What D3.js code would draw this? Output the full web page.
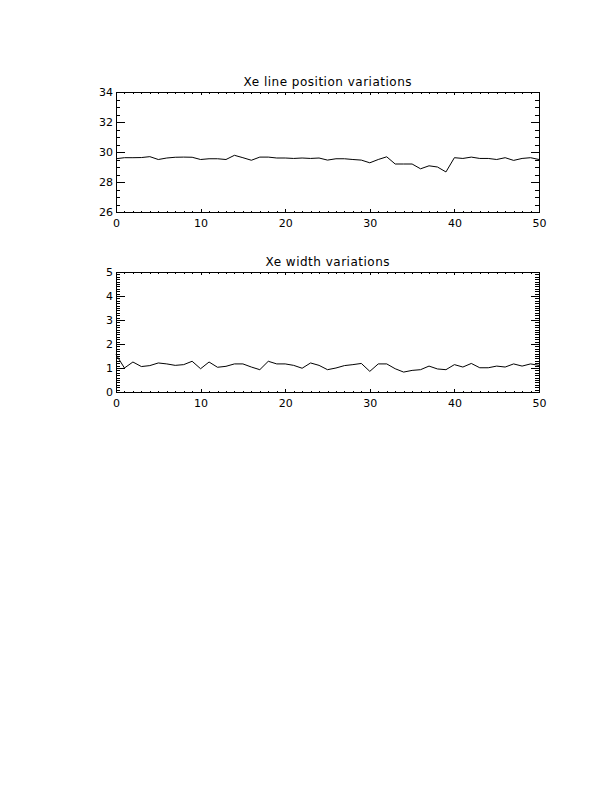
<!DOCTYPE html>
<html>
<head>
<meta charset="utf-8">
<script src="https://cdn.jsdelivr.net/npm/d3@7"></script>
<style>
  body { margin: 0; background: #fff; }
  text { font-family: "DejaVu Sans", sans-serif; fill: #000; }
</style>
</head>
<body>
<div id="chart"></div>
<script>
// frame index, 0..50
const frames = d3.range(0, 51);

// Xe line position per frame
const positionValues = [
  29.55, 29.62, 29.62, 29.63, 29.69, 29.50, 29.60, 29.65, 29.66, 29.65,
  29.50, 29.55, 29.55, 29.50, 29.78, 29.62, 29.45, 29.66, 29.66, 29.60,
  29.60, 29.57, 29.60, 29.57, 29.60, 29.46, 29.55, 29.55, 29.50, 29.46,
  29.28, 29.50, 29.68, 29.20, 29.20, 29.20, 28.88, 29.08, 29.00, 28.67,
  29.62, 29.57, 29.66, 29.57, 29.57, 29.50, 29.62, 29.44, 29.57, 29.62,
  29.50
];

// Xe width per frame
const widthValues = [
  1.56, 1.00, 1.25, 1.06, 1.10, 1.21, 1.17, 1.11, 1.14, 1.28,
  0.97, 1.25, 1.03, 1.07, 1.17, 1.17, 1.04, 0.93, 1.28, 1.17,
  1.17, 1.11, 0.99, 1.21, 1.11, 0.93, 1.00, 1.10, 1.14, 1.19,
  0.86, 1.17, 1.17, 0.97, 0.83, 0.90, 0.93, 1.08, 0.96, 0.93,
  1.14, 1.04, 1.19, 1.01, 1.01, 1.08, 1.04, 1.17, 1.08, 1.17,
  1.11
];

const xTicks = [0, 10, 20, 30, 40, 50];
const posTicks = [26, 28, 30, 32, 34];
const widthTicks = [0, 1, 2, 3, 4, 5];

const svg = d3.select("#chart")
  .append("svg")
  .attr("width", 612)
  .attr("height", 792);

svg.append("rect").attr("width", 612).attr("height", 792).attr("fill", "#fff");

function drawPanel(cfg) {
  const left = 116, right = 539;
  const top = cfg.top, bottom = cfg.top + 120;

  const x = d3.scaleLinear().domain([0, 50]).range([left, right]);
  const y = d3.scaleLinear().domain(cfg.yDomain).range([bottom, top]);

  const g = svg.append("g").attr("shape-rendering", "crispEdges");

  const majLenY = 8.5, minLenY = 4.2;
  const majLenX = 3, minLenX = 1.5;
  const xMinor = d3.range(0, 51, 1);
  const yMinor = d3.range(cfg.yDomain[0], cfg.yDomain[1] + 1e-9, cfg.yMinorStep);

  // y ticks, left (labelled) and right
  g.append("g").attr("transform", `translate(${left},0)`)
    .call(d3.axisLeft(y).tickValues(cfg.yTicks).tickSize(-majLenY).tickPadding(3).tickFormat(d3.format("d")));
  g.append("g").attr("transform", `translate(${left},0)`)
    .call(d3.axisLeft(y).tickValues(yMinor).tickSize(-minLenY).tickFormat(""));
  g.append("g").attr("transform", `translate(${right},0)`)
    .call(d3.axisRight(y).tickValues(cfg.yTicks).tickSize(-majLenY).tickFormat(""));
  g.append("g").attr("transform", `translate(${right},0)`)
    .call(d3.axisRight(y).tickValues(yMinor).tickSize(-minLenY).tickFormat(""));

  // x ticks, bottom (labelled) and top
  g.append("g").attr("transform", `translate(0,${bottom})`)
    .call(d3.axisBottom(x).tickValues(xTicks).tickSize(-majLenX).tickPadding(7).tickFormat(d3.format("d")));
  g.append("g").attr("transform", `translate(0,${bottom})`)
    .call(d3.axisBottom(x).tickValues(xMinor).tickSize(-minLenX).tickFormat(""));
  g.append("g").attr("transform", `translate(0,${top})`)
    .call(d3.axisTop(x).tickValues(xTicks).tickSize(-majLenX).tickFormat(""));
  g.append("g").attr("transform", `translate(0,${top})`)
    .call(d3.axisTop(x).tickValues(xMinor).tickSize(-minLenX).tickFormat(""));

  g.selectAll(".domain").remove();
  g.selectAll(".tick line").attr("stroke", "#000");
  g.selectAll(".tick text")
    .attr("font-family", "DejaVu Sans, sans-serif")
    .attr("font-size", 11)
    .attr("fill", "#000");

  g.append("rect")
    .attr("x", left).attr("y", top)
    .attr("width", right - left).attr("height", bottom - top)
    .attr("fill", "none").attr("stroke", "#000");

  svg.append("path")
    .datum(frames)
    .attr("fill", "none")
    .attr("stroke", "#000")
    .attr("stroke-width", 1)
    .attr("d", d3.line().x(i => x(i)).y(i => y(cfg.values[i])));

  svg.append("text")
    .attr("x", (left + right) / 2)
    .attr("y", top - 6)
    .attr("text-anchor", "middle")
    .attr("font-size", 12)
    .attr("textLength", cfg.titleWidth)
    .attr("lengthAdjust", "spacing")
    .text(cfg.title);
}

drawPanel({
  top: 92,
  yDomain: [26, 34],
  yTicks: posTicks,
  yMinorStep: 0.5,
  values: positionValues,
  title: "Xe line position variations",
  titleWidth: 168
});

drawPanel({
  top: 272,
  yDomain: [0, 5],
  yTicks: widthTicks,
  yMinorStep: 0.1,
  values: widthValues,
  title: "Xe width variations",
  titleWidth: 124
});
</script>
</body>
</html>
